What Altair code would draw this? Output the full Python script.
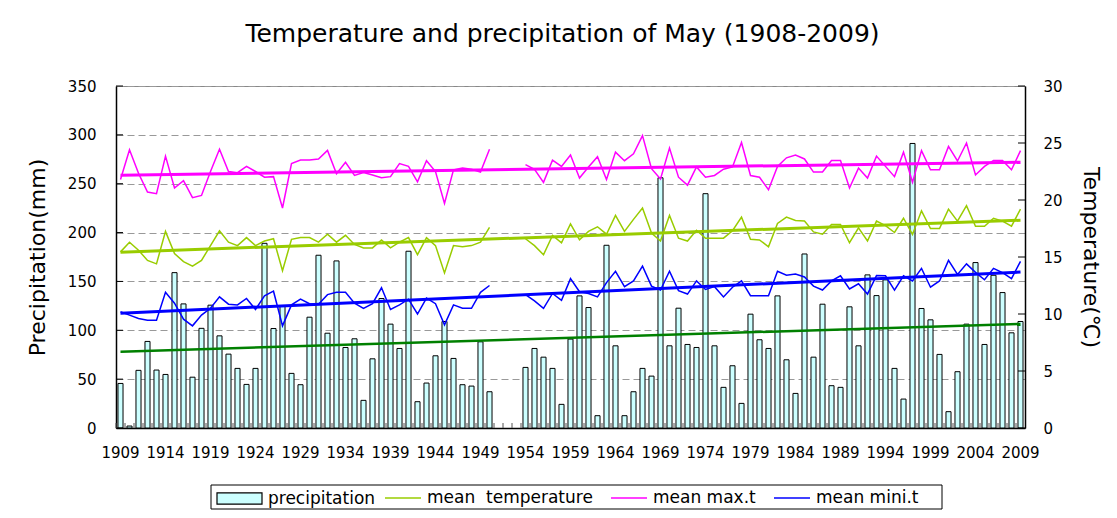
import altair as alt
import pandas as pd

# ---------------- data ----------------
years = list(range(1909, 2010))

precipitation = [
    45.6, 2, 59, 88.6, 59.3, 54.8, 159, 127, 52, 102,
    125.7, 94.3, 75.6, 61, 44.6, 61, 189, 101.8, 125, 55.9,
    44.3, 113.4, 176.8, 97, 171, 82.4, 91.3, 28.3, 70.8, 132.5,
    106.3, 81.4, 180.9, 26.9, 46, 73.9, 109, 71.2, 44.3, 42.9,
    88.2, 37.1, None, None, None, 62, 81.4, 72.5, 61, 24.2,
    91, 135.2, 123.3, 12.6, 187, 84.1, 12.6, 37.1, 61, 53.1,
    256.1, 84.1, 122.6, 85.5, 82.4, 239.8, 84.1, 41.6, 63.7, 25.2,
    116.5, 90.3, 81.4, 135.2, 69.8, 35.4, 178.1, 72.5, 126.7, 43.3,
    41.6, 124, 84.1, 156.7, 135.5, 151.6, 61, 29.6, 291.2, 122.3,
    110.7, 75.3, 16.7, 57.6, 106.3, 169.3, 85.5, 156.3, 138.6, 97.4,
    109,
]

mean_temperature = [
    15.45, 16.3, 15.6, 14.7, 14.4, 17.25, 15.3, 14.6, 14.2, 14.7,
    16.0, 17.3, 16.3, 16.0, 16.7, 16.0, 16.4, 16.6, 13.8, 16.55,
    16.7, 16.7, 16.3, 17.0, 16.3, 16.9, 16.1, 15.8, 15.8, 16.5,
    15.8, 16.3, 16.7, 15.2, 16.7, 16.0, 13.6, 16.0, 15.9, 16.0,
    16.3, 17.6, None, None, None, 16.6, 16.0, 15.2, 16.9, 16.25,
    17.9, 16.5, 17.25, 17.65, 17.0, 18.65, 17.25, 18.3, 19.3, 17.1,
    16.4, 18.65, 16.65, 16.4, 17.35, 16.65, 16.65, 16.65, 17.3, 18.5,
    16.55, 16.5, 15.9, 17.95, 18.5, 18.2, 18.15, 17.2, 17.0, 17.85,
    17.85, 16.25, 17.55, 16.4, 18.15, 17.75, 17.15, 18.4, 16.98, 19.05,
    17.5, 17.5, 19.2, 18.15, 19.5, 17.7, 17.7, 18.4, 18.15, 17.7,
    19.2,
]

mean_max_t = [
    21.8, 24.4, 22.35, 20.7, 20.55, 23.85, 21.05, 21.7, 20.2, 20.4,
    22.5, 24.45, 22.5, 22.4, 22.95, 22.5, 22.0, 22.05, 19.3, 23.2,
    23.5, 23.5, 23.6, 24.35, 22.3, 23.3, 22.15, 22.4, 22.2, 21.95,
    22.05, 23.2, 22.95, 21.6, 23.45, 22.5, 19.7, 22.65, 22.8, 22.7,
    22.45, 24.45, None, None, None, 23.1, 22.7, 21.55, 23.5, 22.95,
    23.95, 21.93, 22.9, 23.8, 21.8, 24.2, 23.45, 24.05, 25.65, 22.75,
    21.85, 24.55, 22.0, 21.3, 22.9, 22.0, 22.15, 22.7, 22.9, 25.05,
    22.15, 22.0, 20.9, 22.95, 23.7, 23.95, 23.6, 22.45, 22.45, 23.47,
    23.47, 21.05, 22.8, 21.92, 23.85, 22.95, 22.05, 24.2, 21.55, 24.33,
    22.65, 22.65, 24.7, 23.42, 25.0, 22.2, 22.95, 23.47, 23.47, 22.65,
    24.33,
]

mean_mini_t = [
    10.2, 9.9, 9.6, 9.46, 9.46, 11.9, 10.95, 9.55, 8.96, 9.9,
    10.5, 11.5, 10.86, 10.8, 11.36, 10.4, 11.6, 12.0, 8.96, 10.8,
    11.3, 10.9, 10.86, 11.7, 11.9, 11.9, 10.95, 10.5, 10.9, 12.3,
    10.4, 10.8, 11.3, 10.0, 11.4, 10.9, 9.05, 10.8, 10.5, 10.5,
    11.9, 12.5, None, None, None, 11.7, 11.15, 10.5, 11.8, 11.2,
    13.1, 11.95, 11.8, 11.5, 12.75, 13.75, 12.4, 12.9, 14.2, 12.45,
    12.1, 13.75, 12.05, 11.75, 12.9, 12.15, 12.4, 11.5, 12.35, 12.9,
    11.6, 11.6, 11.6, 13.75, 13.4, 13.5, 13.25, 12.45, 12.1, 12.9,
    13.35, 12.2, 12.65, 11.75, 13.37, 13.35, 12.1, 13.35, 12.9, 14.0,
    12.35, 12.9, 14.7, 13.47, 14.4, 13.65, 13.0, 14.0, 13.62, 13.1,
    14.62,
]

x_labels = list(range(1909, 2010, 5))
precip_ticks = list(range(0, 351, 50))
temp_ticks = list(range(0, 31, 5))

series_names = ["mean\u00a0 temperature", "mean max.t", "mean mini.t"]
series_colors = ["#99CC00", "#FF00FF", "#0000FF"]
bar_name = "precipitation"
bar_fill = "#CCFFFF"
precip_trend_color = "#008000"

# ---------------- tables ----------------
df_p = pd.DataFrame({"year": years, "precipitation": precipitation, "name": bar_name}).dropna()

rows = []
for name, vals in zip(series_names, [mean_temperature, mean_max_t, mean_mini_t]):
    for y, v in zip(years, vals):
        if v is not None:
            rows.append({"year": y, "value": v, "series": name, "seg": 0 if y < 1951 else 1})
df_t = pd.DataFrame(rows)

df_lt = pd.DataFrame({"v": precip_ticks})
df_rt = pd.DataFrame({"v": temp_ticks})
df_years = pd.DataFrame({"year": years})
df_box = pd.DataFrame({"k": [0]})

W, H = 909, 342
FONT = "DejaVu Sans"

x_scale = alt.Scale(domain=years, paddingInner=0, paddingOuter=0)
x_axis = alt.Axis(title=None, values=x_labels, ticks=False, labelAngle=0, labelPadding=17,
                  domainColor="black", domainWidth=1.5, grid=False, labelOverlap=False)
X = alt.X("year:O", scale=x_scale, axis=x_axis)

p_scale = alt.Scale(domain=[0, 350], nice=False, zero=True)
p_axis = alt.Axis(title="Precipitation(mm)", values=precip_ticks, ticks=False, labelPadding=20,
                  grid=True, gridDash=[7, 4], gridColor="#999999", gridWidth=1,
                  domainColor="black", domainWidth=1.5, titlePadding=18)
t_scale = alt.Scale(domain=[0, 30], nice=False, zero=True)
t_axis = alt.Axis(title="Temperature(\u2103)", orient="right", values=temp_ticks, ticks=False,
                  labelPadding=18, grid=False, domainColor="black", domainWidth=1.5,
                  titlePadding=16)

bar_legend = alt.Legend(title=None, orient="none", legendX=100, legendY=389, direction="horizontal",
                        symbolType="M-1,-0.25H1V0.25H-1Z", symbolSize=2025,
                        symbolStrokeColor="black", symbolStrokeWidth=1.2,
                        labelFont=FONT, labelFontSize=17, labelOffset=5, labelColor="black")
line_legend = alt.Legend(title=None, orient="none", legendX=268, legendY=393, direction="horizontal",
                         symbolType="stroke", symbolSize=1296, symbolStrokeWidth=1.5,
                         columnPadding=15, labelFont=FONT, labelFontSize=17, labelOffset=5,
                         labelColor="black", labelLimit=300)

bars = alt.Chart(df_p).mark_bar(width=alt.RelativeBandSize(0.56), stroke="black", strokeWidth=1).encode(
    x=X,
    y=alt.Y("precipitation:Q", scale=p_scale, axis=p_axis),
    fill=alt.Fill("name:N", scale=alt.Scale(domain=[bar_name], range=[bar_fill]), legend=bar_legend),
)

p_trend = alt.Chart(df_p).transform_regression("year", "precipitation").mark_line(
    color=precip_trend_color, strokeWidth=2.5
).encode(
    x=X,
    y=alt.Y("precipitation:Q", scale=p_scale, axis=p_axis),
)

left_ticks = alt.Chart(df_lt).mark_rule(color="black", strokeWidth=1).encode(
    x=alt.value(0), x2=alt.value(7),
    y=alt.Y("v:Q", scale=p_scale, axis=p_axis),
)

bottom_ticks = alt.Chart(df_years).mark_rule(color="#555555", strokeWidth=1).encode(
    x=alt.X("year:O", scale=x_scale, axis=x_axis, bandPosition=0),
    y=alt.value(H - 5), y2=alt.value(H),
)

legend_box = alt.Chart(df_box).mark_rect(fillOpacity=0, stroke="black", strokeWidth=1).encode(
    x=alt.value(95), x2=alt.value(826), y=alt.value(399), y2=alt.value(423),
)

stroke_enc = alt.Stroke("series:N", scale=alt.Scale(domain=series_names, range=series_colors),
                        legend=line_legend)

t_lines = alt.Chart(df_t).mark_line(strokeWidth=1.5).encode(
    x=X,
    y=alt.Y("value:Q", scale=t_scale, axis=t_axis),
    stroke=stroke_enc,
    detail="seg:N",
)

t_trends = alt.Chart(df_t).transform_regression("year", "value", groupby=["series"]).mark_line(
    strokeWidth=3
).encode(
    x=X,
    y=alt.Y("value:Q", scale=t_scale, axis=t_axis),
    stroke=stroke_enc,
)

right_ticks = alt.Chart(df_rt).mark_rule(color="black", strokeWidth=1).encode(
    x=alt.value(W - 7), x2=alt.value(W),
    y=alt.Y("v:Q", scale=t_scale, axis=t_axis),
)

left_layer = alt.layer(bars, p_trend, left_ticks, bottom_ticks, legend_box)
right_layer = alt.layer(t_lines, t_trends, right_ticks)

chart = alt.layer(left_layer, right_layer).resolve_scale(y="independent").properties(
    width=W, height=H,
    autosize=alt.AutoSizeParams(type="none"),
    padding={"left": 108, "top": 78, "right": 84, "bottom": 82},
    title=alt.TitleParams("Temperature and precipitation of May (1908-2009)", font=FONT,
                          fontSize=25, fontWeight="normal", color="black", anchor="middle",
                          offset=32, dx=-8),
).configure_view(stroke="#888888", strokeWidth=1).configure_axis(
    labelFont=FONT, labelFontSize=15, labelColor="black",
    titleFont=FONT, titleFontSize=22, titleFontWeight="normal", titleColor="black",
)

chart.save("out.html", embed_options={"renderer": "svg", "actions": False})
